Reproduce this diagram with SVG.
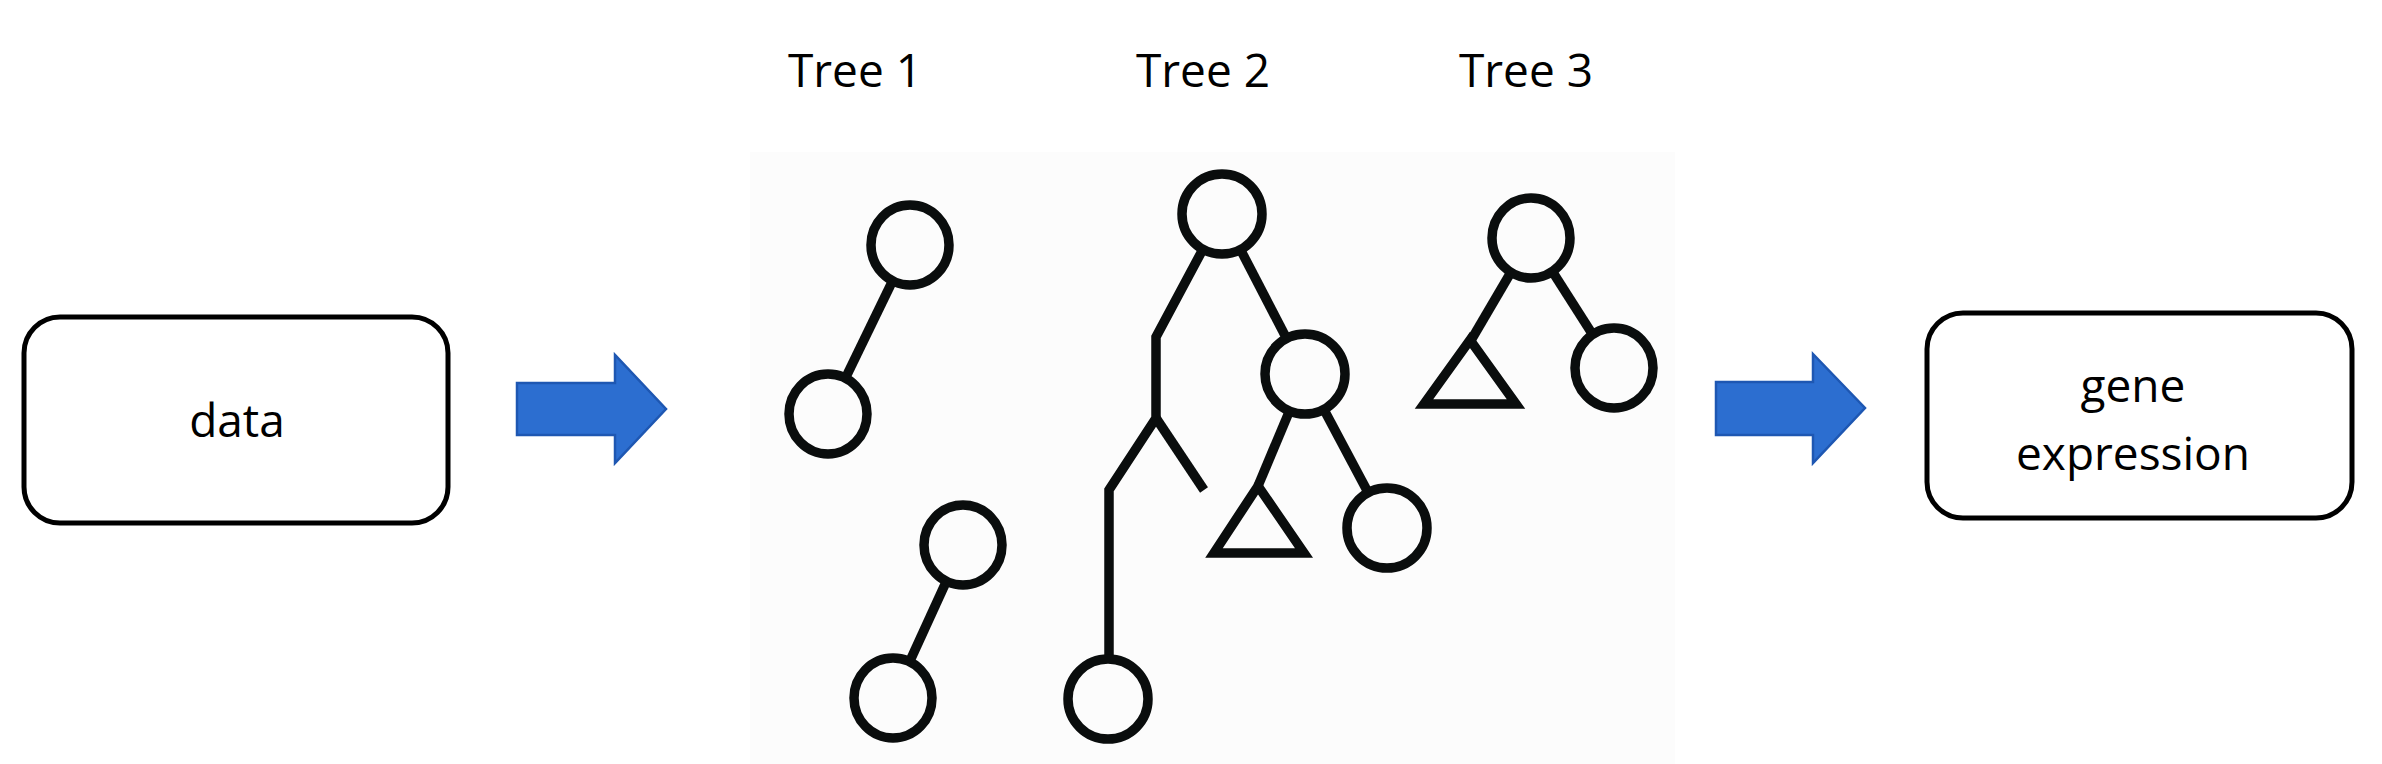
<svg xmlns="http://www.w3.org/2000/svg" width="2382" height="764" viewBox="0 0 2382 764">
<defs>
<style>
.box{fill:#ffffff;stroke:#000000;stroke-width:5}
.lbl{font-family:"Open Sans","Liberation Sans",sans-serif;font-size:46px;fill:#000000;text-anchor:middle}
.nd{fill:#fcfcfc;stroke:#0a0d0d;stroke-width:9.5}
.ed{fill:none;stroke:#0a0d0d;stroke-width:9.5;stroke-linejoin:miter;stroke-linecap:butt}
.tri{fill:none;stroke:#0a0d0d;stroke-width:9.5;stroke-linejoin:miter}
.arr{fill:#2C6ED0;stroke:#1E57B2;stroke-width:2.5;stroke-linejoin:miter}
</style>
</defs>
<rect x="0" y="0" width="2382" height="764" fill="#ffffff"/>
<rect id="panel" x="750" y="152" width="925" height="612" fill="#fcfcfc"/>

<g id="data">
<rect class="box" x="24" y="317" width="424" height="206" rx="36" ry="36"/>
<text class="lbl" x="237" y="437">data</text>
</g>

<g id="gene-expression">
<rect class="box" x="1927" y="313" width="425" height="205" rx="36" ry="36"/>
<text class="lbl" x="2133" y="402">gene</text>
<text class="lbl" x="2133" y="470">expression</text>
</g>

<g id="tree-labels">
<text class="lbl" x="855" y="87">Tree 1</text>
<text class="lbl" x="1203" y="87">Tree 2</text>
<text class="lbl" x="1526" y="87">Tree 3</text>
</g>

<g id="connectors">
<path class="arr" d="M517,383 H615 V355 L666,409 L615,463 V435 H517 Z"/>
<path class="arr" d="M1716,382 H1813 V354 L1865,408 L1813,463 V435 H1716 Z"/>
<line class="ed" x1="910" y1="245" x2="828" y2="414"/>
<line class="ed" x1="963" y1="545" x2="893" y2="698"/>
<polyline class="ed" points="1210,236 1156,337 1156,418 1109,490 1109,690"/>
<line class="ed" x1="1156" y1="418" x2="1204" y2="490"/>
<line class="ed" x1="1222" y1="214" x2="1305" y2="374"/>
<line class="ed" x1="1305" y1="374" x2="1258" y2="486"/>
<line class="ed" x1="1305" y1="374" x2="1387" y2="528"/>
<line class="ed" x1="1531" y1="238" x2="1470" y2="342"/>
<line class="ed" x1="1531" y1="238" x2="1614" y2="368"/>
</g>

<g id="tree1">
<ellipse class="nd" cx="910" cy="245" rx="39" ry="40"/>
<ellipse class="nd" cx="828" cy="414" rx="39" ry="40"/>
<ellipse class="nd" cx="963" cy="545" rx="39" ry="40"/>
<ellipse class="nd" cx="893" cy="698" rx="39" ry="40"/>
</g>

<g id="tree2">
<ellipse class="nd" cx="1222" cy="214" rx="40" ry="40"/>
<ellipse class="nd" cx="1305" cy="374" rx="40" ry="40"/>
<ellipse class="nd" cx="1108" cy="699" rx="40" ry="40"/>
<ellipse class="nd" cx="1387" cy="528" rx="40" ry="40"/>
<polygon class="tri" points="1258,486 1214,553 1304,553"/>
</g>

<g id="tree3">
<ellipse class="nd" cx="1531" cy="238" rx="39" ry="40"/>
<ellipse class="nd" cx="1614" cy="368" rx="39" ry="40"/>
<polygon class="tri" points="1470,340 1424,404 1516,404"/>
</g>
</svg>
